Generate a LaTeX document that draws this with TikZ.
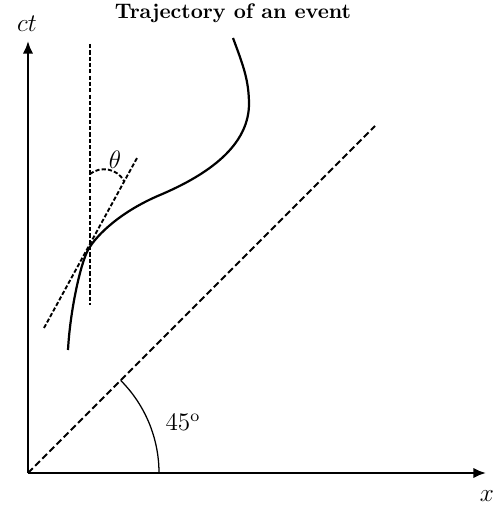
\documentclass[tikz,border=0pt]{standalone}
\usetikzlibrary{arrows.meta}
\begin{document}
\begin{tikzpicture}[x=0.475pt,y=-0.475pt,
  axis/.style={line width=1.3pt,-{Latex[length=6pt,width=5pt]}},
  traj/.style={line width=1.05pt},
  refdash/.style={line width=0.9pt,dash pattern=on 2pt off 1pt},
  lightdash/.style={line width=0.9pt,dash pattern=on 3.2pt off 1.6pt},
  lbl/.style={inner sep=0pt,font=\large}]
\useasboundingbox (0,0) rectangle (494,512);
% axes
\coordinate (O) at (28,473);
\coordinate (Ytip) at (28,41);
\coordinate (Xtip) at (486,473);
\draw[axis] (O) -- (Ytip);
\draw[axis] (O) -- (Xtip);
\node[lbl] (ct) at (27,24) {$ct$};
\node[lbl] (xl) at (487,496) {$x$};
\node[inner sep=0pt] (title) at (233,13) {\bfseries Trajectory of an event};
% light-cone line
\coordinate (L) at (375,126);
\draw[lightdash] (O) -- (L);
\draw[line width=0.6pt] (159,473) arc[start angle=0,end angle=-45,radius=131];
\node[lbl] (ang) at (183,422) {$45^{\rm o}$};
% vertical reference
\coordinate (V1) at (90,44);
\coordinate (V2) at (90,305);
\draw[refdash] (V1) -- (V2);
% tangent
\coordinate (T1) at (44,328);
\coordinate (T2) at (137,158);
\draw[refdash] (T1) -- (T2);
% theta arc
\coordinate (A1) at (90,174);
\coordinate (A2) at (124,181);
\draw[refdash] (A1) .. controls (100,166) and (117,168) .. (A2);
\node[lbl] (th) at (115,160) {$\theta$};
% trajectory
\draw[traj] (68,350) .. controls (70,312) and (80,265) .. (88,250)
  .. controls (97,234) and (122,211) .. (160,195)
  .. controls (200,178) and (248,150) .. (249,105)
  .. controls (249,80) and (243,65) .. (233,38);
\end{tikzpicture}
\end{document}
